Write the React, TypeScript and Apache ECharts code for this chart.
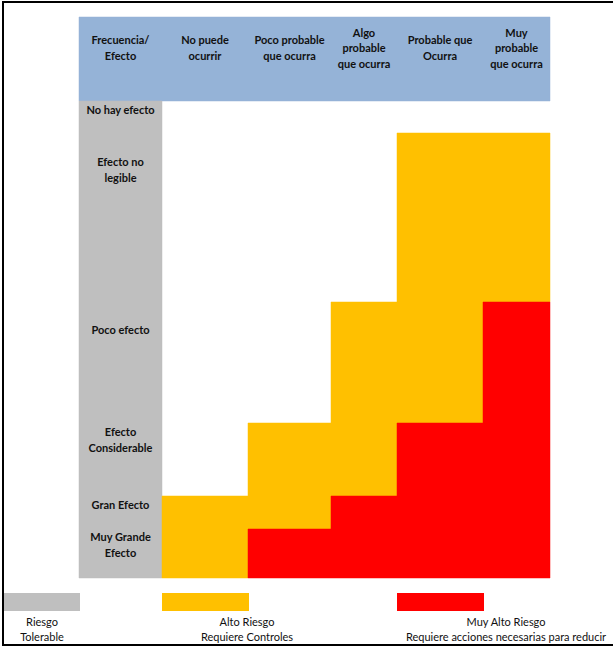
import React, { useEffect, useRef } from "react";
import * as echarts from "echarts";

// ---- data ----
const columnLabels = [
  "Frecuencia/\nEfecto",
  "No puede\nocurrir",
  "Poco probable\nque ocurra",
  "Algo\nprobable\nque ocurra",
  "Probable que\nOcurra",
  "Muy\nprobable\nque ocurra",
];
const rowLabels = [
  "No hay efecto",
  "Efecto no\nlegible",
  "Poco efecto",
  "Efecto\nConsiderable",
  "Gran Efecto",
  "Muy Grande\nEfecto",
];
// 0 = tolerable (white), 1 = alto riesgo, 2 = muy alto riesgo
const riskLevels = [
  [0, 0, 0, 0, 0],
  [0, 0, 0, 1, 1],
  [0, 0, 1, 1, 2],
  [0, 1, 1, 2, 2],
  [1, 1, 2, 2, 2],
  [1, 2, 2, 2, 2],
];
const legendLabels = [
  "Riesgo\nTolerable",
  "Alto Riesgo\nRequiere Controles",
  "Muy Alto Riesgo\nRequiere acciones necesarias para reducir",
];

// ---- layout (axis units) ----
const colEdges = [79, 162, 248, 331, 397, 483, 550];
const rowEdges = [17, 101, 133, 302, 423, 496, 529, 578];
const rowLabelY = [110, 170, 330, 440, 505, 545];
const headerLabelY = 48;

// ---- styles ----
const headerColor = "#95B3D7";
const labelColColor = "#BFBFBF";
const riskColors = ["#FFFFFF", "#FFC000", "#FF0000"];
const textColor = "#111111";
const FONT = "Lato";

export default function App() {
  const ref = useRef<HTMLDivElement>(null);
  useEffect(() => {
    if (!ref.current) return;
    const chart = echarts.init(ref.current, undefined, { renderer: "svg" });

    const rects: any[] = [];
    rects.push({ value: [colEdges[0], colEdges[6], rowEdges[0], rowEdges[1]], color: headerColor });
    rects.push({ value: [colEdges[0], colEdges[1], rowEdges[1], rowEdges[7]], color: labelColColor });
    riskLevels.forEach((row, r) =>
      row.forEach((lvl, c) => {
        if (lvl === 0) return;
        rects.push({
          value: [colEdges[c + 1], colEdges[c + 2], rowEdges[r + 1], rowEdges[r + 2]],
          color: riskColors[lvl],
        });
      })
    );

    const texts: any[] = [];
    columnLabels.forEach((t, c) =>
      texts.push({ value: [(colEdges[c] + colEdges[c + 1]) / 2, headerLabelY], text: t })
    );
    rowLabels.forEach((t, r) =>
      texts.push({ value: [(colEdges[0] + colEdges[1]) / 2, rowLabelY[r]], text: t })
    );

    const legendBoxes = [
      { x: 4, w: 76, color: labelColColor, tx: 42 },
      { x: 162, w: 87, color: riskColors[1], tx: 247 },
      { x: 397, w: 87, color: riskColors[2], tx: 506 },
    ];
    const graphic: any[] = [
      {
        type: "rect",
        shape: { x: 3, y: 2, width: 640, height: 643 },
        style: { fill: "none", stroke: "#000", lineWidth: 2 },
        silent: true,
      },
    ];
    legendBoxes.forEach((b, i) => {
      graphic.push({
        type: "rect",
        shape: { x: b.x, y: 593, width: b.w, height: 18 },
        style: { fill: b.color },
      });
      graphic.push({
        type: "text",
        x: b.tx,
        y: 629,
        style: {
          text: legendLabels[i],
          fill: textColor,
          font: `11px ${FONT}`,
          lineHeight: 15,
          align: "center",
          verticalAlign: "middle",
        },
      });
    });

    chart.setOption({
      animation: false,
      grid: { left: colEdges[0], top: rowEdges[0], width: colEdges[6] - colEdges[0], height: rowEdges[7] - rowEdges[0] },
      xAxis: { type: "value", min: colEdges[0], max: colEdges[6], show: false },
      yAxis: { type: "value", min: rowEdges[0], max: rowEdges[7], inverse: true, show: false },
      series: [
        {
          type: "custom",
          clip: false,
          data: rects.map((d) => d.value),
          renderItem: (params: any, api: any) => {
            const p0 = api.coord([api.value(0), api.value(2)]);
            const p1 = api.coord([api.value(1), api.value(3)]);
            const color = rects[params.dataIndex].color;
            return {
              type: "rect",
              shape: { x: p0[0], y: p0[1], width: p1[0] - p0[0], height: p1[1] - p0[1] },
              style: { fill: color, stroke: color, lineWidth: 0.5 },
            };
          },
        },
        {
          type: "custom",
          clip: false,
          data: texts.map((d) => d.value),
          renderItem: (params: any, api: any) => {
            const p = api.coord([api.value(0), api.value(1)]);
            return {
              type: "text",
              x: p[0],
              y: p[1] - 0.5,
              style: {
                text: texts[params.dataIndex].text,
                fill: textColor,
                font: `bold 11px ${FONT}`,
                lineHeight: 15.5,
                align: "center",
                verticalAlign: "middle",
              },
            };
          },
        },
      ],
      graphic,
    });
    return () => chart.dispose();
  }, []);
  return (
    <div
      ref={ref}
      style={{ position: "absolute", left: 0, top: 0, width: 613, height: 650, background: "#fff" }}
    />
  );
}
